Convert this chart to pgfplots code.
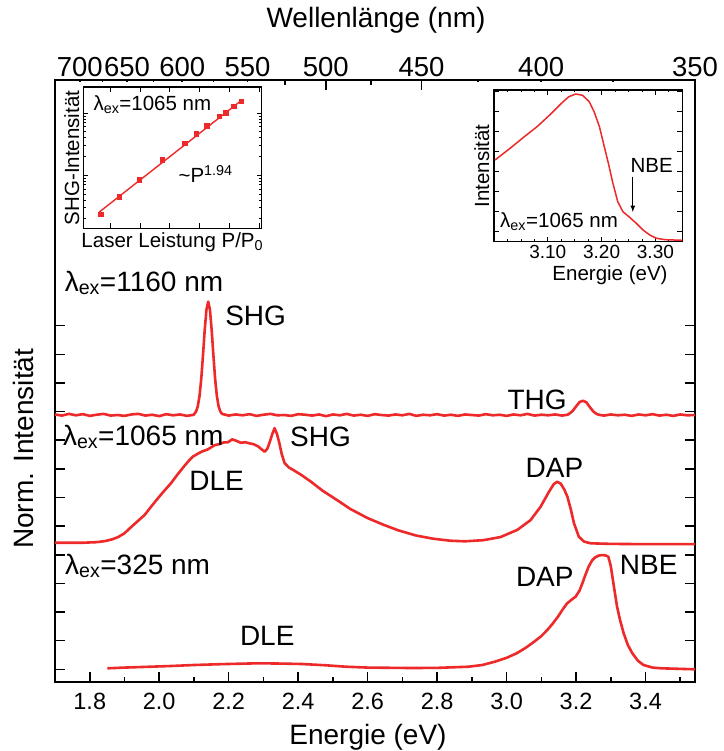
\documentclass[border=0pt]{standalone}
\usepackage{fontspec}
\setmainfont{Liberation Sans}
\usepackage{pgfplots}
\pgfplotsset{compat=1.18}
\definecolor{myred}{RGB}{237,41,41}
\newcommand\bigf{\fontsize{28}{32}\selectfont}
\newcommand\topf{\fontsize{27.5}{32}\selectfont}
\newcommand\midf{\fontsize{23.5}{26}\selectfont}
\newcommand\smf{\fontsize{20.5}{23}\selectfont}
\newcommand\tinf{\fontsize{19}{21}\selectfont}
\begin{document}
\begin{tikzpicture}
\path[use as bounding box] (-55pt,-69.3pt) rectangle (668pt,681.7pt);
% ---------------- main axis (energy) ----------------
\begin{axis}[
  at={(0pt,0pt)}, anchor=south west,
  scale only axis, width=640pt, height=601.7pt,
  xmin=1.7, xmax=3.5424, ymin=-0.433, ymax=20.58,
  xtick={1.8,2.0,2.2,2.4,2.6,2.8,3.0,3.2,3.4},
  xticklabels={1.8,2.0,2.2,2.4,2.6,2.8,3.0,3.2,3.4},
  minor xtick={1.9,2.1,2.3,2.5,2.7,2.9,3.1,3.3,3.5},
  xtick pos=bottom, ytick pos=both,
  ytick={0,1,2,3,4,5,6,7,8,9,10,11,12}, yticklabels={},
  tick align=inside,
  major tick length=10pt, minor tick length=5pt,
  tick style={black, line width=1.6pt},
  axis line style={line width=2.2pt},
  xticklabel style={font=\midf, anchor=north, yshift=-8pt},
  xlabel={Energie (eV)}, ylabel={Norm. Intensität},
  label style={font=\bigf},
  xlabel style={at={(axis description cs:0.489,-0.093)}, anchor=center},
  ylabel style={at={(axis description cs:-0.05,0.387)}, anchor=center},
]
% lambda_ex = 1160 nm
\addplot[myred, line width=2.6pt, line join=round] coordinates {
(1.70,8.90) (1.72,8.86) (1.74,8.92) (1.76,8.87) (1.78,8.91) (1.80,8.85) (1.82,8.89) (1.84,8.92)
(1.86,8.86) (1.88,8.88) (1.90,8.85) (1.92,8.90) (1.94,8.92) (1.96,8.86) (1.98,8.89) (2.00,8.84)
(2.02,8.91) (2.04,8.87) (2.06,8.90) (2.08,8.85) (2.10,8.89)
(2.101,8.92) (2.106,9.00) (2.111,9.18) (2.116,9.54) (2.121,10.14) (2.126,10.96) (2.131,11.85)
(2.136,12.56) (2.141,12.84) (2.146,12.56) (2.151,11.85) (2.156,10.96) (2.161,10.14) (2.166,9.54)
(2.171,9.18) (2.176,9.00) (2.181,8.92)
(2.20,8.86) (2.22,8.90) (2.24,8.87) (2.26,8.91) (2.28,8.85) (2.30,8.89) (2.32,8.92) (2.34,8.87)
(2.36,8.88) (2.38,8.85) (2.40,8.91) (2.42,8.89) (2.44,8.86) (2.46,8.90) (2.48,8.84) (2.50,8.90)
(2.52,8.87) (2.54,8.92) (2.56,8.86) (2.58,8.89) (2.60,8.85) (2.62,8.91) (2.64,8.88) (2.66,8.86)
(2.68,8.90) (2.70,8.87) (2.72,8.92) (2.74,8.85) (2.76,8.89) (2.78,8.87) (2.80,8.91) (2.82,8.86)
(2.84,8.89) (2.86,8.85) (2.88,8.90) (2.90,8.88) (2.92,8.86) (2.94,8.91) (2.96,8.87) (2.98,8.89)
(3.00,8.85) (3.02,8.90) (3.04,8.87) (3.06,8.92) (3.08,8.86) (3.10,8.89) (3.12,8.87) (3.14,8.90)
(3.16,8.86) (3.175,8.89)
(3.18,8.92) (3.19,9.02) (3.20,9.18) (3.21,9.33) (3.22,9.38) (3.23,9.32) (3.24,9.15) (3.25,9.00)
(3.26,8.91) (3.27,8.88) (3.28,8.86) (3.30,8.90) (3.32,8.87) (3.34,8.89) (3.36,8.85) (3.38,8.90)
(3.40,8.87) (3.42,8.91) (3.44,8.86) (3.46,8.89) (3.48,8.85) (3.50,8.90) (3.52,8.87) (3.5424,8.88)
};
% lambda_ex = 1065 nm
\addplot[myred, line width=2.6pt, line join=round] coordinates {
(1.70,4.42) (1.74,4.42) (1.78,4.42) (1.82,4.44) (1.845,4.48) (1.865,4.54) (1.882,4.62) (1.90,4.75)
(1.914,4.91) (1.935,5.14) (1.958,5.39) (1.976,5.67) (1.996,5.97) (2.015,6.24) (2.034,6.50)
(2.052,6.79) (2.071,7.08) (2.085,7.28) (2.097,7.43) (2.110,7.52) (2.122,7.60) (2.140,7.68)
(2.160,7.83) (2.172,7.86) (2.185,7.92) (2.198,7.93) (2.210,8.03) (2.222,7.98) (2.235,7.91)
(2.248,7.93) (2.260,7.89) (2.272,7.86) (2.285,7.78) (2.295,7.68) (2.304,7.60) (2.311,7.70)
(2.317,7.89) (2.325,8.20) (2.332,8.42) (2.339,8.22) (2.346,7.89) (2.353,7.50) (2.361,7.20)
(2.373,7.05) (2.386,6.96) (2.41,6.78) (2.437,6.55) (2.47,6.24) (2.512,5.91) (2.55,5.60)
(2.60,5.28) (2.645,5.05) (2.689,4.85) (2.74,4.67) (2.789,4.56) (2.838,4.49) (2.88,4.47)
(2.934,4.51) (2.983,4.62) (3.031,4.87) (3.069,5.21) (3.098,5.68) (3.122,6.20) (3.136,6.47)
(3.146,6.55) (3.156,6.48) (3.166,6.28) (3.175,6.03) (3.185,5.58) (3.194,5.10) (3.208,4.63)
(3.223,4.46) (3.242,4.40) (3.30,4.38) (3.40,4.37) (3.5424,4.37)
};
% lambda_ex = 325 nm
\addplot[myred, line width=2.6pt, line join=round] coordinates {
(1.851,0.035) (1.90,0.06) (1.95,0.08) (2.034,0.115) (2.10,0.15) (2.18,0.18) (2.285,0.21)
(2.35,0.20) (2.411,0.185) (2.48,0.14) (2.538,0.09) (2.60,0.06) (2.726,0.045) (2.80,0.05)
(2.890,0.09) (2.93,0.15) (2.966,0.265) (3.00,0.40) (3.029,0.56) (3.055,0.75) (3.079,0.96)
(3.10,1.16) (3.117,1.37) (3.133,1.60) (3.148,1.84) (3.162,2.10) (3.174,2.30) (3.187,2.43)
(3.199,2.54) (3.210,2.75) (3.218,3.00) (3.227,3.30) (3.236,3.58) (3.246,3.80) (3.255,3.91)
(3.265,3.97) (3.274,3.99) (3.284,3.98) (3.293,3.93) (3.300,3.60) (3.306,3.12) (3.312,2.65)
(3.318,2.19) (3.327,1.70) (3.337,1.26) (3.349,0.85) (3.362,0.56) (3.378,0.30) (3.394,0.15)
(3.42,0.06) (3.444,0.035) (3.5424,0.0)
};
\node[font=\bigf, anchor=west] at (axis cs:1.718,13.49) {λ\textsubscript{ex}=1160 nm};
\node[font=\bigf, anchor=west] at (axis cs:2.180,12.34) {SHG};
\node[font=\bigf] at (axis cs:3.088,9.41) {THG};
\node[font=\bigf, anchor=west] at (axis cs:1.713,8.11) {λ\textsubscript{ex}=1065 nm};
\node[font=\bigf, anchor=west] at (axis cs:2.367,8.11) {SHG};
\node[font=\bigf] at (axis cs:2.165,6.58) {DLE};
\node[font=\bigf] at (axis cs:3.138,7.05) {DAP};
\node[font=\bigf, anchor=west] at (axis cs:1.719,3.61) {λ\textsubscript{ex}=325 nm};
\node[font=\bigf] at (axis cs:3.110,3.22) {DAP};
\node[font=\bigf] at (axis cs:3.409,3.64) {NBE};
\node[font=\bigf] at (axis cs:2.311,1.16) {DLE};
\end{axis}
% ---------------- top axis (wavelength) ----------------
\begin{axis}[
  at={(0pt,0pt)}, anchor=south west,
  scale only axis, width=640pt, height=601.7pt,
  xmin=1.7, xmax=3.5424, ymin=0, ymax=1,
  axis x line*=top, axis y line=none,
  x axis line style={-, line width=2.2pt},
  xtick={1.77120,1.90745,2.06640,2.25425,2.47968,2.75520,3.09960,3.54240},
  xticklabels={700,650,600,550,500,450,400,350},
  minor xtick={1.83680,1.98374,2.15625,2.36160,2.61019,2.91727,3.30624},
  tick align=inside,
  major tick length=10pt, minor tick length=5pt,
  tick style={black, line width=1.6pt},
  xticklabel style={font=\topf},
  xlabel={Wellenlänge (nm)},
  xlabel style={font=\bigf, at={(axis description cs:0.5016,1.0997)}, anchor=center},
]
\end{axis}
% white backgrounds of the insets
\fill[white] (2pt,423.7pt) rectangle (223pt,599.7pt);
\fill[white] (413pt,391.7pt) rectangle (638pt,599.7pt);
% ---------------- left inset ----------------
\begin{axis}[
  at={(28.3pt,453.4pt)}, anchor=south west,
  scale only axis, width=178.4pt, height=141.3pt,
  xmode=log, ymode=log,
  xmin=0.416, xmax=6.56, ymin=0.14, ymax=26.3,
  xticklabels={}, yticklabels={},
  xtick pos=both, ytick pos=both, tick align=inside,
  major tick length=5pt, minor tick length=2.5pt,
  tick style={black, line width=0.8pt},
  axis line style={line width=1.4pt},
  xlabel={Laser Leistung P/P\textsubscript{0}}, ylabel={SHG-Intensität},
  label style={font=\smf},
  xlabel style={at={(axis description cs:0.499,-0.10)}, anchor=center},
  ylabel style={at={(axis description cs:-0.065,0.4975)}, anchor=center},
]
\addplot[only marks, mark=square*, mark size=2.2pt, color=myred] coordinates {
(0.545,0.235) (0.726,0.453) (0.989,0.852) (1.405,1.79) (1.995,3.25) (2.376,4.63)
(2.80,6.24) (3.41,8.95) (3.76,10.1) (4.25,12.97) (4.76,15.4)
};
\addplot[color=myred, line width=1.4pt] coordinates {(0.533,0.256) (4.76,15.8)};
\node[font=\smf, anchor=west] at (axis description cs:0.0376,0.873) {λ\textsubscript{ex}=1065 nm};
\node[font=\smf, anchor=west] at (axis description cs:0.514,0.384) {\textasciitilde P\textsuperscript{1.94}};
\end{axis}
% ---------------- right inset ----------------
\begin{axis}[
  at={(439pt,440pt)}, anchor=south west,
  scale only axis, width=188.3pt, height=151.7pt,
  xmin=3.0, xmax=3.35, ymin=0, ymax=151.7,
  xtick={3.1,3.2,3.3}, xticklabels={3.10,3.20,3.30},
  minor xtick={3.025,3.05,3.075,3.125,3.15,3.175,3.225,3.25,3.275,3.325},
  ytick={10,30,50,70,90,110,130,150}, yticklabels={},
  xtick pos=both, ytick pos=both, tick align=inside,
  major tick length=5pt, minor tick length=2.5pt,
  tick style={black, line width=0.8pt},
  axis line style={line width=1.4pt},
  xticklabel style={font=\tinf},
  xlabel={Energie (eV)}, ylabel={Intensität},
  label style={font=\smf},
  xlabel style={at={(axis description cs:0.616,-0.2195)}, anchor=center},
  ylabel style={at={(axis description cs:-0.065,0.499)}, anchor=center},
]
\addplot[color=myred, line width=1.5pt, line join=round] coordinates {
(3.0019,81.7) (3.030,93.4) (3.055,104.4) (3.080,115) (3.105,127.4) (3.124,137.7) (3.139,145)
(3.152,147.7) (3.1645,146.4) (3.177,140) (3.186,130) (3.196,115) (3.205,95) (3.2126,78.4)
(3.221,58.4) (3.230,40) (3.2396,30) (3.252,24.4) (3.2645,18.4) (3.277,11.7) (3.2895,6.7)
(3.302,3.4) (3.318,2) (3.35,1.4)
};
\node[font=\smf] at (axis cs:3.293,76.7) {NBE};
\draw[-latex, line width=1.2pt] (axis cs:3.258,65) -- (axis cs:3.258,29.7);
\node[font=\smf, anchor=west] at (axis cs:3.005,20) {λ\textsubscript{ex}=1065 nm};
\end{axis}
\end{tikzpicture}
\end{document}
